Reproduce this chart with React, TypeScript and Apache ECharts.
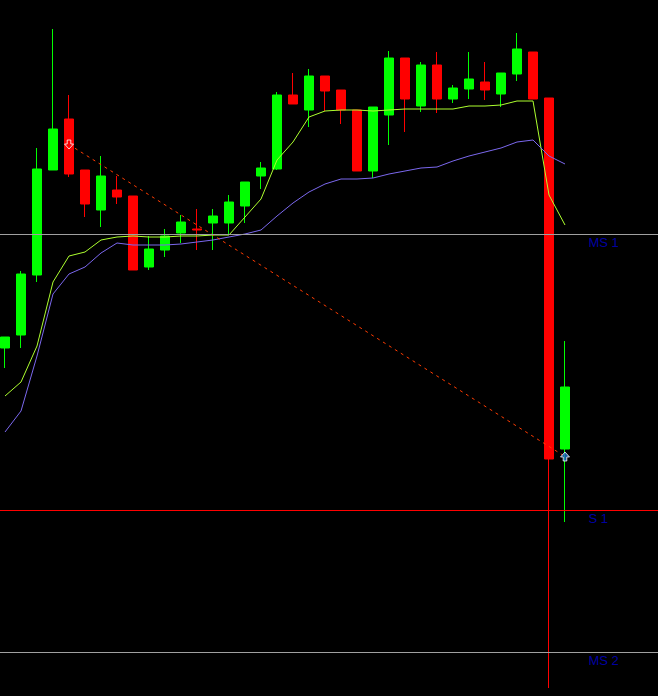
import React, { useEffect, useRef } from "react";
import * as echarts from "echarts";

// 36 bars shown plus 6 empty slots on the right of the chart
const categories: string[] = Array.from({ length: 42 }, (_, i) => `Bar ${i + 1}`);

// [open, close, low, high]
const candles: number[][] = [
  [348, 359, 328, 359],
  [361, 422, 348, 425],
  [421, 527, 414, 548],
  [526, 567, 526, 667],
  [577, 522, 519, 601],
  [526, 492, 479, 526],
  [486, 520, 469, 540],
  [506, 499, 492, 520],
  [500, 426, 426, 500],
  [429, 447, 426, 460],
  [446, 460, 439, 467],
  [463, 474, 453, 481],
  [467, 466, 446, 487],
  [473, 480, 446, 487],
  [473, 494, 461, 501],
  [490, 514, 473, 514],
  [520, 528, 507, 534],
  [527, 601, 526, 604],
  [601, 592, 592, 623],
  [586, 620, 569, 627],
  [620, 605, 585, 620],
  [606, 586, 572, 606],
  [586, 525, 525, 586],
  [525, 589, 518, 589],
  [581, 638, 551, 645],
  [638, 597, 564, 638],
  [590, 631, 584, 634],
  [631, 597, 583, 644],
  [597, 608, 593, 611],
  [607, 617, 597, 644],
  [614, 606, 596, 634],
  [602, 623, 589, 623],
  [622, 647, 615, 663],
  [644, 597, 597, 644],
  [598, 237, 8, 598],
  [247, 309, 174, 355],
];

const fastMA: number[] = [
  300, 314, 350, 414, 440, 444, 456, 459, 460, 459, 459, 460, 460, 461, 461, 479, 497, 536,
  554, 579, 585, 586, 586, 585, 586, 587, 587, 587, 587, 590, 590, 591, 595, 595, 501, 471,
];

const slowMA: number[] = [
  264, 285, 340, 402, 422, 429, 443, 453, 451, 451, 451, 452, 454, 456, 459, 462, 466, 480,
  493, 504, 512, 517, 517, 518, 522, 525, 528, 529, 535, 540, 544, 548, 554, 556, 540, 532,
];

// trend line end points: [bar index, price]
const trendStart: [number, number] = [4, 551.5];
const trendEnd: [number, number] = [35, 239.5];

// horizontal levels
const levelNames: string[] = ["MS 1", "S 1", "MS 2"];
const levelValues: number[] = [461.5, 185.5, 43.5];
const levelColors: string[] = ["#a0a0a0", "#ff0000", "#a0a0a0"];
const levelLabelBar = 37;

const FONT = 'Arial, "Liberation Sans", sans-serif';

export default function App() {
  const ref = useRef<HTMLDivElement>(null);

  useEffect(() => {
    if (!ref.current) return;
    document.body.style.margin = "0";
    document.body.style.background = "#000";
    document.body.style.overflow = "hidden";
    const chart = echarts.init(ref.current, undefined, { renderer: "svg" });

    const trendData: (number | null)[] = categories.map(() => null);
    trendData[trendStart[0]] = trendStart[1];
    trendData[trendEnd[0]] = trendEnd[1];

    chart.setOption({
      animation: false,
      backgroundColor: "#000000",
      grid: { left: 0, right: 0, top: 0, bottom: 0, containLabel: false },
      xAxis: {
        type: "category",
        data: categories,
        boundaryGap: true,
        show: false,
      },
      yAxis: {
        type: "value",
        min: 0,
        max: 696,
        show: false,
        splitLine: { show: false },
      },
      series: [
        {
          name: "levels",
          type: "line",
          data: [],
          silent: true,
          markLine: {
            silent: true,
            symbol: "none",
            label: { show: false },
            data: levelValues.map((v, i) => ({
              yAxis: v,
              lineStyle: { color: levelColors[i], width: 1, type: "solid" },
            })),
          },
        },
        {
          name: "candles",
          type: "candlestick",
          data: candles,
          barWidth: 10,
          clip: false,
          itemStyle: {
            color: "#00ff00",
            color0: "#ff0000",
            borderColor: "#00ff00",
            borderColor0: "#ff0000",
            borderWidth: 1,
          },
        },
        {
          name: "MA fast",
          type: "line",
          data: fastMA,
          symbol: "none",
          lineStyle: { color: "#adff2f", width: 1 },
          z: 3,
        },
        {
          name: "MA slow",
          type: "line",
          data: slowMA,
          symbol: "none",
          lineStyle: { color: "#7b68ee", width: 1 },
          z: 3,
        },
        {
          name: "trend",
          type: "line",
          data: trendData,
          connectNulls: true,
          symbol: "none",
          lineStyle: { color: "#ff3c00", width: 1, type: [3, 4] },
          z: 4,
        },
        {
          name: "arrows",
          type: "scatter",
          z: 5,
          data: [
            {
              value: trendStart,
              symbol: "path://M3,0 L7,0 L7,4 L10,4 L5,9 L0,4 L3,4 Z",
              itemStyle: { color: "#ff0000", borderColor: "#ffffff", borderWidth: 1 },
            },
            {
              value: trendEnd,
              symbol: "path://M5,0 L10,5 L7,5 L7,9 L3,9 L3,5 L0,5 Z",
              itemStyle: { color: "#1e6ec8", borderColor: "#ffffff", borderWidth: 1 },
            },
          ],
          symbolSize: 9,
        },
        {
          name: "level labels",
          type: "scatter",
          z: 6,
          symbol: "rect",
          symbolSize: 1,
          itemStyle: { color: "rgba(0,0,0,0)" },
          data: levelValues.map((v, i) => ({
            value: [levelLabelBar, v],
            name: levelNames[i],
          })),
          label: {
            show: true,
            formatter: (p: any) => p.name,
            position: [-8, 8],
            align: "left",
            verticalAlign: "middle",
            color: "#0000cd",
            fontFamily: FONT,
            fontSize: 13,
          },
        },
      ],
    });

    return () => chart.dispose();
  }, []);

  return (
    <div
      style={{
        position: "absolute",
        left: 0,
        top: 0,
        width: 658,
        height: 696,
        overflow: "hidden",
        background: "#000",
      }}
    >
      <div
        ref={ref}
        style={{
          position: "absolute",
          left: -3.5,
          top: 0,
          width: 672,
          height: 696,
        }}
      />
    </div>
  );
}
